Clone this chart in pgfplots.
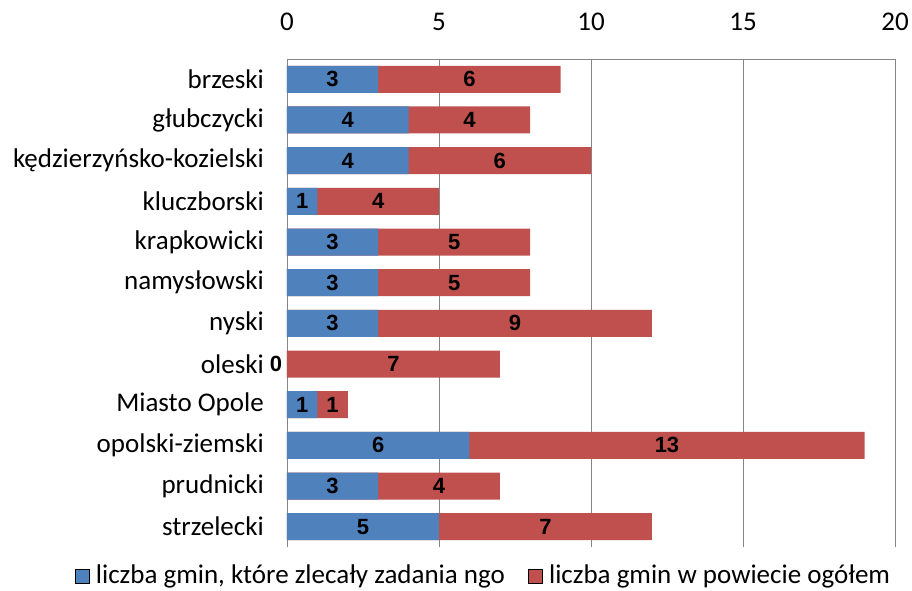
\documentclass[border=0pt]{standalone}
\usepackage{fontspec}
\setmainfont{Carlito}
\newfontfamily\arialbold{Liberation Sans}[BoldFont={Liberation Sans Bold}]
\usepackage{pgfplots}
\usepackage{pgfplotstable}
\pgfplotsset{compat=1.18}

\definecolor{bluec}{HTML}{4F81BD}
\definecolor{redc}{HTML}{C0504D}
\definecolor{gridc}{HTML}{868686}

% pos 0 = bottom row (strzelecki), pos 11 = top row (brzeski)
\pgfplotstableread{
pos name a b
0 strzelecki 5 7
1 prudnicki 3 4
2 opolski-ziemski 6 13
3 {Miasto Opole} 1 1
4 oleski 0 7
5 nyski 3 9
6 namysłowski 3 5
7 krapkowicki 3 5
8 kluczborski 1 4
9 kędzierzyńsko-kozielski 4 6
10 głubczycki 4 4
11 brzeski 3 6
}\data

\begin{document}
\fontsize{27pt}{32pt}\selectfont
\begin{tikzpicture}
\useasboundingbox (-287pt,-43pt) rectangle (625pt,547pt);
\begin{axis}[
  at={(0pt,0pt)}, anchor=south west,
  scale only axis, width=608pt, height=488pt,
  xmin=0, xmax=20, ymin=-0.5, ymax=11.5,
  xtick={0,5,10,15,20},
  ytick={0,...,11},
  yticklabels from table={\data}{name},
  axis x line=top, axis y line=left,
  axis line style={draw=gridc, line width=0.8pt},
  every outer x axis line/.append style={-},
  every outer y axis line/.append style={-},
  every inner x axis line/.append style={-},
  every inner y axis line/.append style={-},
  xmajorgrids, major grid style={draw=gridc, line width=0.8pt},
  major tick length=0pt,
  tick label style={font=\fontsize{27pt}{32pt}\selectfont, text=black},
  /pgf/number format/assume math mode=true,
  xticklabel style={yshift=19pt},
  yticklabel style={xshift=-14pt},
  bar width=27pt,
  clip=false,
  legend columns=2,
  legend style={at={(0.323,-0.059)}, anchor=center, draw=none,
    font=\fontsize{27pt}{32pt}\selectfont,
    /tikz/every even column/.append style={column sep=21pt}},
  legend image code/.code={\fill[#1] (0pt,-7pt) rectangle (14pt,7pt);
    \path[draw=none, fill=none] (0pt,0pt) (19pt,0pt);},
  every node near coord/.append style={anchor=center,
    font=\arialbold\bfseries\fontsize{22pt}{26pt}\selectfont, text=black},
]
% red bars cover the whole stack, blue bars lie on top of them
\addplot[xbar, bar shift=0pt, fill=redc, draw=none, forget plot]
  table[x expr=\thisrow{a}+\thisrow{b}, y=pos] {\data};
\addplot[xbar, bar shift=0pt, fill=bluec, draw=none, forget plot]
  table[x=a, y=pos] {\data};
% value labels at the middle of each segment
\addplot[only marks, mark=none, forget plot, point meta=explicit,
  visualization depends on={ifthenelse(\thisrow{a}==0,-11,0) \as \sh},
  nodes near coords,
  every node near coord/.append style={xshift=\sh pt}]
  table[x expr=\thisrow{a}/2, y=pos, meta=a] {\data};
\addplot[only marks, mark=none, forget plot, point meta=explicit, nodes near coords]
  table[x expr=\thisrow{a}+\thisrow{b}/2, y=pos, meta=b] {\data};
\addlegendimage{fill=bluec}
\addlegendentry{liczba gmin, które zlecały zadania ngo}
\addlegendimage{fill=redc}
\addlegendentry{liczba gmin w powiecie ogółem}
\end{axis}
\end{tikzpicture}
\end{document}
